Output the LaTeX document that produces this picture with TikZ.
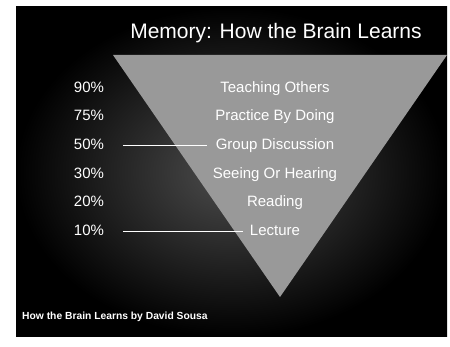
\documentclass[tikz,border=0pt]{standalone}
\usepackage{fontspec}
\setmainfont{Liberation Sans}
\usetikzlibrary{positioning}
\definecolor{mygray}{gray}{0.60}
\definecolor{slidegray}{gray}{0.30}

\begin{document}
\begin{tikzpicture}[x=1pt, y=-1pt,
  rowtext/.style={text=white, font=\fontsize{15}{17}\selectfont, inner sep=0pt, text height=10.5pt, text depth=3pt},
  pointer/.style={draw=white, line width=0.9pt}]
\def\rowgap{28.6}
\def\rowtop{88.5}
\def\pctx{89}
\def\labx{275}
\useasboundingbox (0,0) rectangle (450,347);

%Slide
\shade [inner color=slidegray, outer color=black] (16,7) rectangle (447,337);
\fill [mygray] (113,55) -- (447,55) -- (280,297) -- cycle;

%Title
\node (title) at (276,33) [text=white, font=\fontsize{21}{25}\selectfont, inner sep=0pt] {Memory: How the Brain Learns};

%Rows
\node (p90) at (\pctx,\rowtop) [rowtext] {90\%};
\node (p75) at (\pctx,\rowtop+\rowgap) [rowtext] {75\%};
\node (p50) at (\pctx,\rowtop+2*\rowgap) [rowtext] {50\%};
\node (p30) at (\pctx,\rowtop+3*\rowgap) [rowtext] {30\%};
\node (p20) at (\pctx,\rowtop+4*\rowgap) [rowtext] {20\%};
\node (p10) at (\pctx,\rowtop+5*\rowgap) [rowtext] {10\%};

\node (l90) at (\labx,\rowtop) [rowtext] {Teaching Others};
\node (l75) at (\labx,\rowtop+\rowgap) [rowtext] {Practice By Doing};
\node (l50) at (\labx,\rowtop+2*\rowgap) [rowtext] {Group Discussion};
\node (l30) at (\labx,\rowtop+3*\rowgap) [rowtext] {Seeing Or Hearing};
\node (l20) at (\labx,\rowtop+4*\rowgap) [rowtext] {Reading};
\node (l10) at (\labx,\rowtop+5*\rowgap) [rowtext] {Lecture};

\draw [pointer, shorten <=19pt, shorten >=9pt] (p50) -- (l50);
\draw [pointer, shorten <=19pt, shorten >=7pt] (p10) -- (l10);

%Source
\node (src) at (22,320) [anchor=base west, text=white, font=\bfseries\fontsize{10.3}{12}\selectfont, inner sep=0pt] {How the Brain Learns by David Sousa};

\end{tikzpicture}
\end{document}
